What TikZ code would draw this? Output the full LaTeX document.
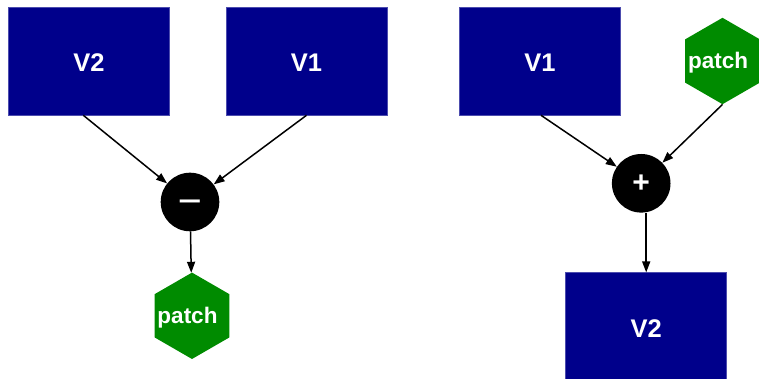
\documentclass[tikz,border=0pt]{standalone}
\usepackage{fontspec}
\setmainfont{Liberation Sans}
\usetikzlibrary{arrows.meta,shapes.geometric}
\definecolor{boxblue}{RGB}{0,0,139}
\definecolor{hexgreen}{RGB}{0,139,0}
\newcommand{\hexlabel}[1]{\smash{\raisebox{-8pt}{\makebox[0pt]{#1}}}\kern9pt}
\begin{document}
\begin{tikzpicture}[x=1pt,y=1pt,
  vbox/.style={fill=boxblue,draw=boxblue!70!white,line width=0.6pt,minimum width=161pt,minimum height=108pt,inner sep=0pt,
    text=white,font=\fontsize{25.5}{26}\selectfont\bfseries,text height=22pt,text depth=0pt},
  hexnode/.style={regular polygon,regular polygon sides=6,shape border rotate=30,fill=hexgreen,minimum size=86.4pt,inner sep=0pt,
    text=white,font=\fontsize{22.5}{23}\selectfont\bfseries},
  opnode/.style={circle,fill=black,minimum size=58.6pt,inner sep=0pt,text=white,font=\fontsize{30}{30}\selectfont\bfseries},
  conn/.style={line width=1.5pt,-{Triangle[length=11pt,width=8pt]}}]
\useasboundingbox (0,0) rectangle (759,379);
% left group
\node[vbox] (v2l) at (89,318) {V2};
\node[vbox] (v1l) at (306.5,318) {V1};
\node[opnode,text height=15.6pt,text depth=0pt] (minus) at (190,177) {\scalebox{1.35}[1]{–}};
\node[hexnode] (patchl) at (192,63.2) {\hexlabel{patch}};
% right group
\node[vbox] (v1r) at (540,318) {V1};
\node[hexnode] (patchr) at (722.5,318) {\hexlabel{patch}};
\node[opnode] (plus) at (641.2,195.7) {+};
\node[vbox] (v2b) at (646.2,52.3) {V2};
% connectors
\draw[conn] ([xshift=-5.7pt]v2l.south) -- (minus);
\draw[conn] (v1l.south) -- (minus);
\draw[conn] (minus) -- (patchl);
\draw[conn] ([xshift=1pt]v1r.south) -- (plus);
\draw[conn] (patchr.south) -- (plus);
\draw[conn] (plus.south -| v2b.north) -- (v2b.north);
\end{tikzpicture}
\end{document}
